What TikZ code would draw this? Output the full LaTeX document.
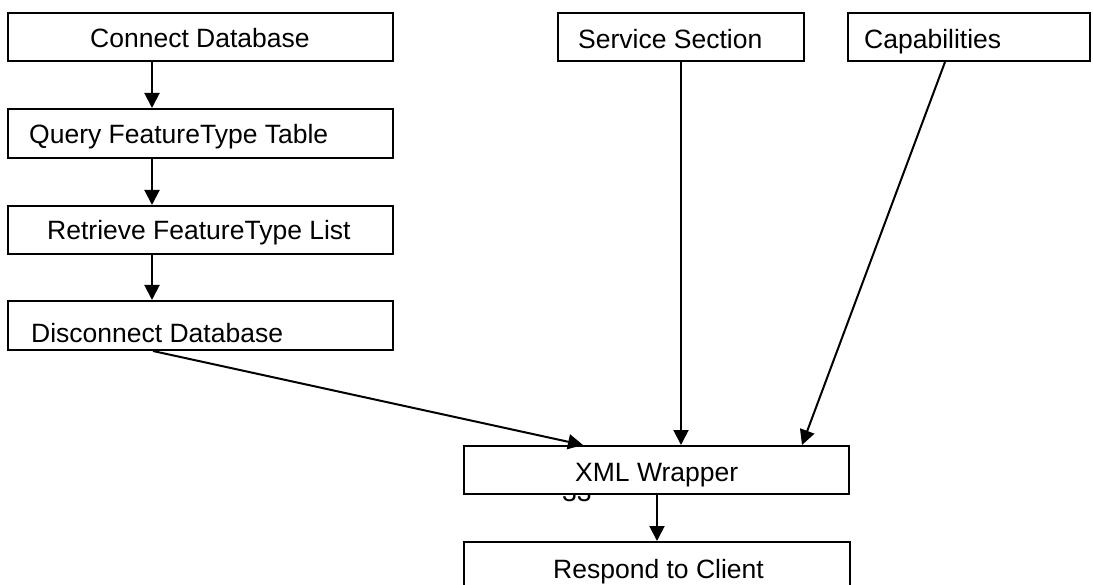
\documentclass[tikz,border=0pt]{standalone}
\usepackage{fontspec}
\setmainfont{Liberation Sans}
\usetikzlibrary{arrows.meta,calc}
\tikzset{
  procbox/.style={draw=black, line width=2pt, fill=white, inner sep=0pt, rectangle},
  lbl/.style={inner sep=0pt, font=\fontsize{26.5}{30}\selectfont},
  flow/.style={draw=black, line width=2pt, -{Triangle[length=15pt,width=15pt]}},
}
\newcommand{\boxat}[5]{% name, x1, y1, x2, y2
  \node[procbox, minimum width={#4-#2}, minimum height={#5-#3}] (#1) at ({(#2+#4)/2},{(#3+#5)/2}) {};}
\begin{document}
\begin{tikzpicture}[x=1pt,y=-1pt]
\useasboundingbox (0,0) rectangle (1093,585);

% page number sitting under the wrapper box
\node[lbl, anchor=base west] (pagenum) at (562,501) {33};

% process boxes
\boxat{connect}{8}{13}{393}{61}
\boxat{query}{8}{109}{393}{158}
\boxat{retrieve}{8}{206}{393}{254}
\boxat{disconnect}{8}{301}{393}{350}
\boxat{service}{558}{13}{804}{61}
\boxat{capab}{848}{13}{1090}{61}
\boxat{xml}{464}{446}{849}{494}
\boxat{respond}{464}{542}{850}{592}

% box texts
\node[lbl, anchor=base west] (tconnect) at (90,48) {Connect Database};
\node[lbl, anchor=base west] (tquery) at (29,144) {Query FeatureType Table};
\node[lbl, anchor=base west] (tretrieve) at (47,240) {Retrieve FeatureType List};
\node[lbl, anchor=base west] (tdisconnect) at (31,343) {Disconnect Database};
\node[lbl, anchor=base west] (tservice) at (578,49) {Service Section};
\node[lbl, anchor=base west] (tcapab) at (864,49) {Capabilities};
\node[lbl, anchor=base west] (txml) at (575,481) {XML Wrapper};
\node[lbl, anchor=base west] (trespond) at (553,578) {Respond to Client};

% guide columns for the connectors
\coordinate (colA) at (152,0);
\coordinate (colB) at (153,0);
\coordinate (colC) at (583,0);
\coordinate (colD) at (945,0);
\coordinate (colE) at (802,0);
\coordinate (colF) at (657,0);

% connectors
\draw[flow] (connect.south -| colA) -- (query.north -| colA);
\draw[flow] (query.south -| colA) -- (retrieve.north -| colA);
\draw[flow] (retrieve.south -| colA) -- (disconnect.north -| colA);
\draw[flow] (disconnect.south -| colB) -- (xml.north -| colC);
\draw[flow] (service.south) -- (xml.north -| service.south);
\draw[flow] (capab.south -| colD) -- (xml.north -| colE);
\draw[flow] (xml.south -| colF) -- (respond.north -| colF);
\end{tikzpicture}
\end{document}
